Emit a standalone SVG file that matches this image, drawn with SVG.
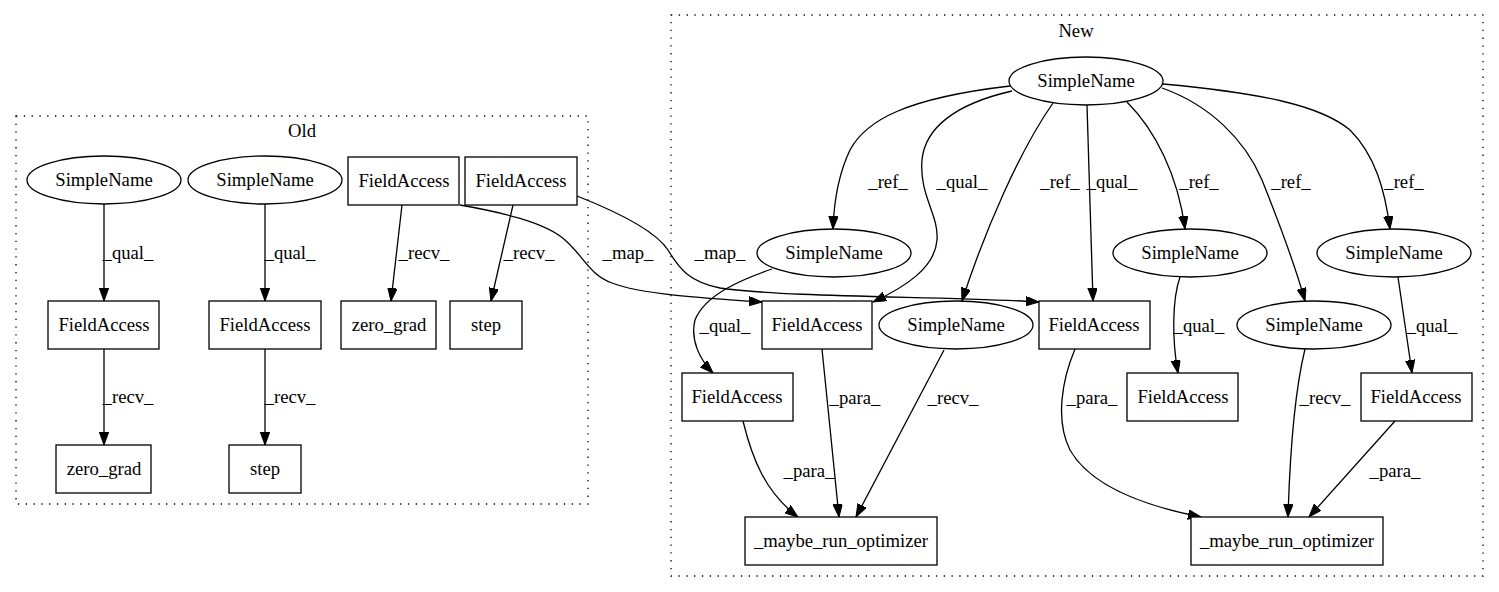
<svg xmlns="http://www.w3.org/2000/svg" width="1499" height="592" viewBox="0 0 1499 592">
<style>
text{font-family:"Liberation Serif","Times New Roman",serif;font-size:18.67px;fill:#000;text-anchor:middle}
.n{fill:#fff;stroke:#000;stroke-width:1.3}
.c{fill:none;stroke:#000;stroke-width:1.3;stroke-dasharray:1.3,6.5}
.e{fill:none;stroke:#000;stroke-width:1.3;marker-end:url(#ah)}
</style>
<defs>
<marker id="ah" markerUnits="userSpaceOnUse" markerWidth="14" markerHeight="10" refX="13" refY="4.7" orient="auto">
<path d="M0,0 L13,4.7 L0,9.4 z" fill="#000" stroke="#000" stroke-width="1"/>
</marker>
</defs>
<rect width="1499" height="592" fill="#fff"/>
<g id="cluster_old"><rect class="c" x="16" y="116" width="572" height="388"/><text x="302" y="137">Old</text></g>
<g id="cluster_new"><rect class="c" x="671" y="15" width="812" height="561"/><text x="1076" y="37">New</text></g>

<g id="connectors">
<path class="e" d="M104,204 L104,301"/><text x="128" y="259">_qual_</text>
<path class="e" d="M104,349 L104,445"/><text x="128" y="403">_recv_</text>
<path class="e" d="M265,204 L265,301"/><text x="290" y="259">_qual_</text>
<path class="e" d="M265,349 L265,445"/><text x="290" y="403">_recv_</text>
<path class="e" d="M402,205 L391,301"/><text x="424" y="259">_recv_</text>
<path class="e" d="M513,205 L491,301"/><text x="529" y="259">_recv_</text>
<path class="e" d="M460,205 C500,212 545,222 565,240 C585,258 590,275 612,283 C640,294 700,298 762,302"/><text x="628" y="259">_map_</text>
<path class="e" d="M577,196 C615,211 655,230 668,250 C680,270 690,282 720,288 C790,298 950,296 1039,302"/><text x="720" y="259">_map_</text>

<path class="e" d="M1010,86 C907,98 866,120 850,150 C838,175 834,200 833,229"/><text x="888" y="188">_ref_</text>
<path class="e" d="M1012,91 C955,104 925,128 922,160 C919,195 939,215 937,240 C935,268 905,287 873,302"/><text x="962" y="188">_qual_</text>
<path class="e" d="M1053,103 C1020,150 985,230 962,301"/><text x="1060" y="188">_ref_</text>
<path class="e" d="M1087,105 L1093,301"/><text x="1112" y="188">_qual_</text>
<path class="e" d="M1127,102 C1155,130 1178,175 1185,229"/><text x="1199" y="188">_ref_</text>
<path class="e" d="M1162,88 C1210,105 1245,140 1262,180 C1280,225 1295,265 1305,301"/><text x="1291" y="188">_ref_</text>
<path class="e" d="M1163,84 C1260,93 1320,105 1350,130 C1375,155 1385,190 1390,229"/><text x="1404" y="188">_ref_</text>

<path class="e" d="M772,269 C740,280 705,295 695,320 C690,340 700,360 713,373"/><text x="725" y="332">_qual_</text>
<path class="e" d="M822,349 L839,517"/><text x="855" y="404">_para_</text>
<path class="e" d="M944,350 L856,517"/><text x="953" y="404">_recv_</text>
<path class="e" d="M743,421 C752,458 765,492 798,517"/><text x="809" y="477">_para_</text>
<path class="e" d="M1075,349 C1062,380 1055,420 1070,450 C1090,485 1140,505 1201,517"/><text x="1092" y="404">_para_</text>
<path class="e" d="M1180,277 C1172,300 1172,340 1178,373"/><text x="1199" y="332">_qual_</text>
<path class="e" d="M1398,277 L1412,373"/><text x="1432" y="332">_qual_</text>
<path class="e" d="M1305,349 C1295,390 1290,450 1288,517"/><text x="1325" y="404">_recv_</text>
<path class="e" d="M1395,421 L1309,517"/><text x="1395" y="477">_para_</text>
</g>

<g id="o_sn1"><ellipse class="n" cx="104" cy="180" rx="77" ry="24"/><text x="104" y="186">SimpleName</text></g>
<g id="o_sn2"><ellipse class="n" cx="265" cy="180" rx="77" ry="24"/><text x="265" y="186">SimpleName</text></g>
<g id="o_fa1"><rect class="n" x="348" y="157" width="111" height="48"/><text x="404" y="187">FieldAccess</text></g>
<g id="o_fa2"><rect class="n" x="465" y="157" width="112" height="48"/><text x="521" y="187">FieldAccess</text></g>
<g id="o_fa3"><rect class="n" x="48" y="301" width="111" height="48"/><text x="104" y="331">FieldAccess</text></g>
<g id="o_fa4"><rect class="n" x="209" y="301" width="112" height="48"/><text x="265" y="331">FieldAccess</text></g>
<g id="o_zg1"><rect class="n" x="341" y="301" width="95" height="48"/><text x="389" y="331">zero_grad</text></g>
<g id="o_st1"><rect class="n" x="450" y="301" width="72" height="48"/><text x="486" y="331">step</text></g>
<g id="o_zg2"><rect class="n" x="56" y="445" width="95" height="48"/><text x="104" y="475">zero_grad</text></g>
<g id="o_st2"><rect class="n" x="229" y="445" width="72" height="48"/><text x="265" y="475">step</text></g>

<g id="n_sn0"><ellipse class="n" cx="1086" cy="81" rx="77" ry="24"/><text x="1086" y="87">SimpleName</text></g>
<g id="n_sn1"><ellipse class="n" cx="834" cy="253" rx="77" ry="24"/><text x="834" y="259">SimpleName</text></g>
<g id="n_sn3"><ellipse class="n" cx="1190" cy="253" rx="77" ry="24"/><text x="1190" y="259">SimpleName</text></g>
<g id="n_sn5"><ellipse class="n" cx="1394" cy="253" rx="77" ry="24"/><text x="1394" y="259">SimpleName</text></g>
<g id="n_fa1"><rect class="n" x="762" y="301" width="110" height="48"/><text x="817" y="331">FieldAccess</text></g>
<g id="n_sn2"><ellipse class="n" cx="956" cy="325" rx="77" ry="24"/><text x="956" y="331">SimpleName</text></g>
<g id="n_fa3"><rect class="n" x="1039" y="301" width="111" height="48"/><text x="1094" y="331">FieldAccess</text></g>
<g id="n_sn4"><ellipse class="n" cx="1314" cy="325" rx="77" ry="24"/><text x="1314" y="331">SimpleName</text></g>
<g id="n_fa4"><rect class="n" x="682" y="373" width="111" height="48"/><text x="737" y="403">FieldAccess</text></g>
<g id="n_fa5"><rect class="n" x="1127" y="373" width="111" height="48"/><text x="1183" y="403">FieldAccess</text></g>
<g id="n_fa6"><rect class="n" x="1361" y="373" width="111" height="48"/><text x="1416" y="403">FieldAccess</text></g>
<g id="n_mro1"><rect class="n" x="745" y="517" width="192" height="48"/><text x="841" y="547">_maybe_run_optimizer</text></g>
<g id="n_mro2"><rect class="n" x="1191" y="517" width="192" height="48"/><text x="1287" y="547">_maybe_run_optimizer</text></g>
</svg>
